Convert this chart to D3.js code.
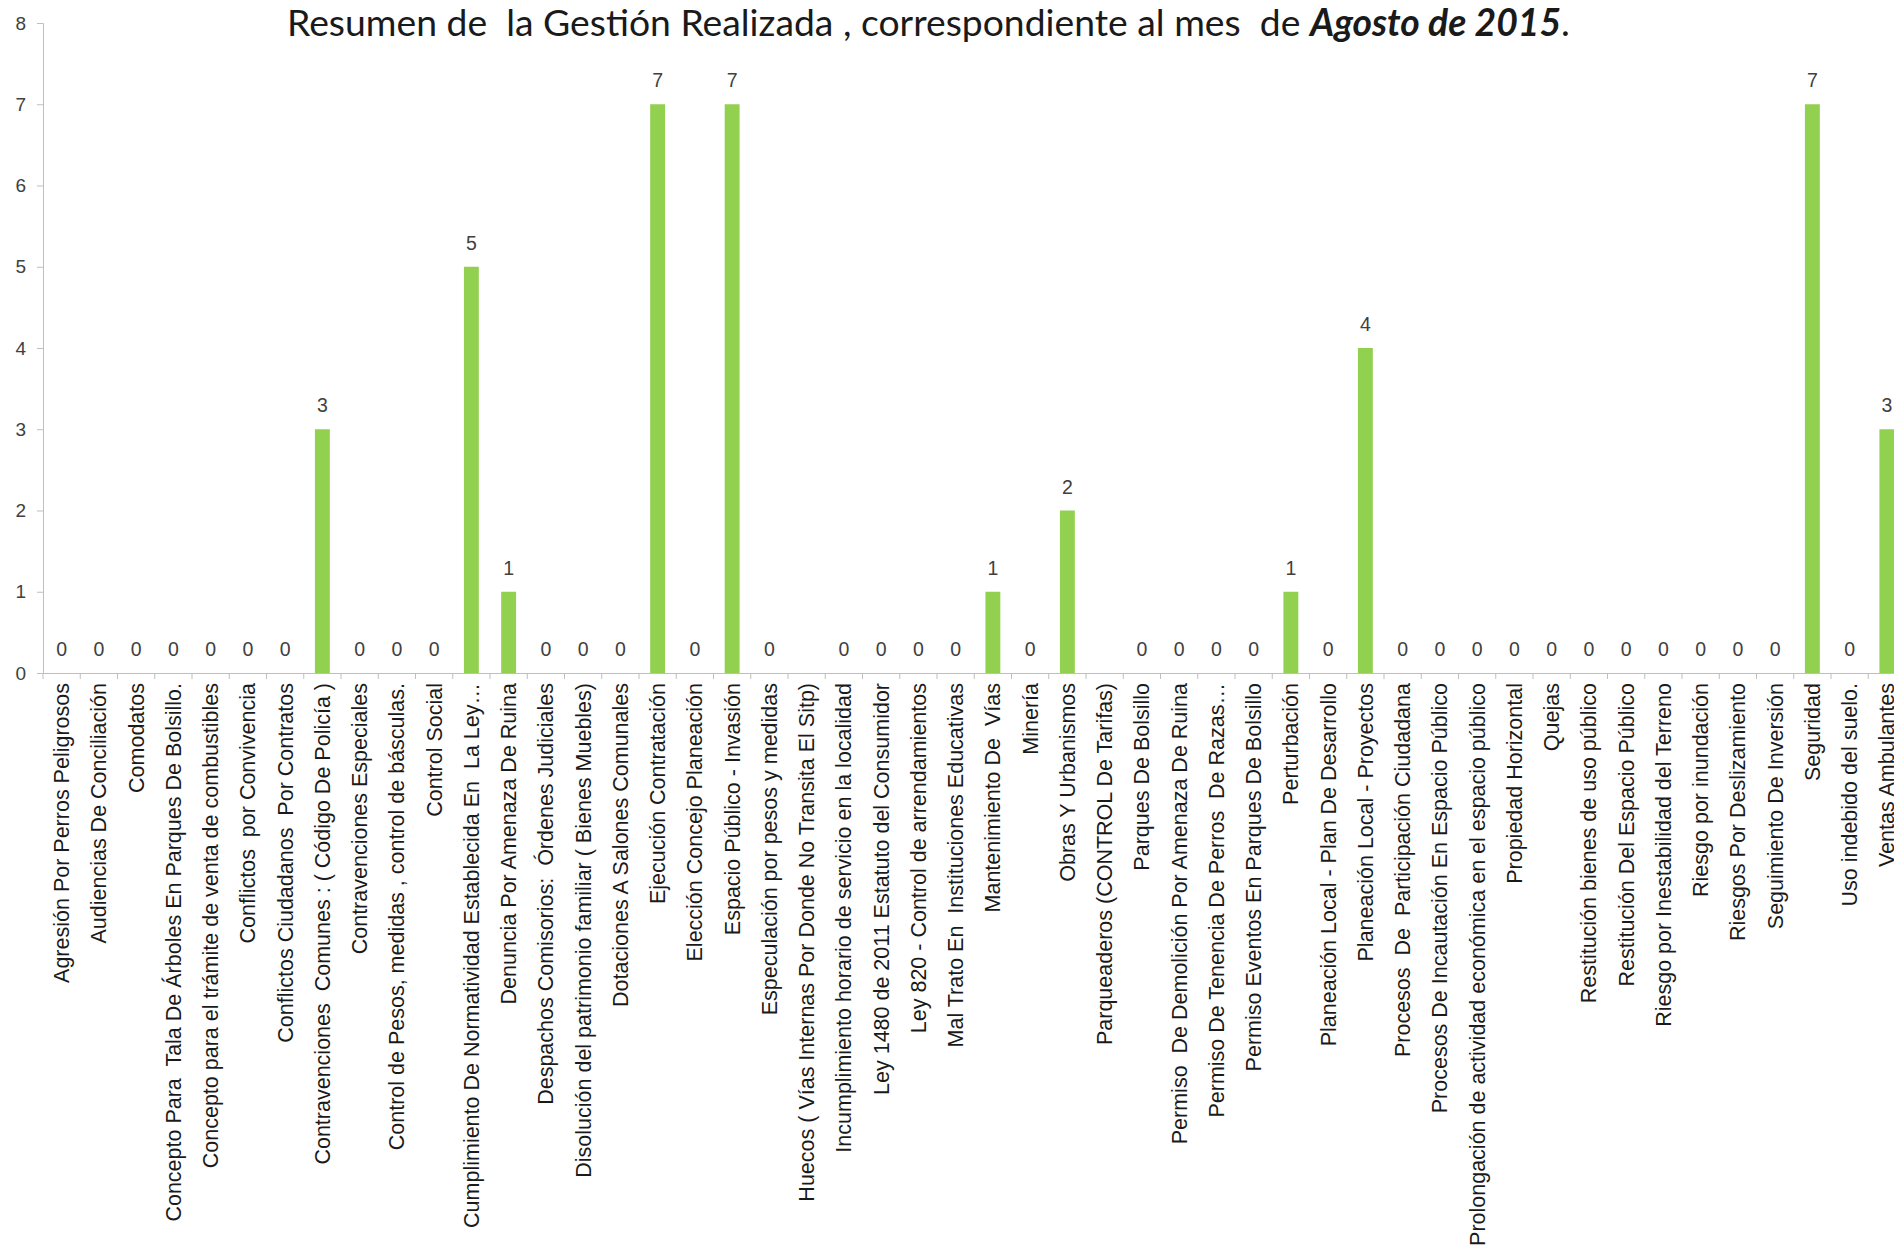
<!DOCTYPE html>
<html>
<head>
<meta charset="utf-8">
<script src="https://cdn.jsdelivr.net/npm/d3@7"></script>
<style>
  body { margin: 0; background: #fff; }
  svg { display: block; }
  text { white-space: pre; }
</style>
</head>
<body>
<svg id="chart" width="1894" height="1247"></svg>
<script>
// categorías y valores (agosto 2015)
const categories = [
  "Agresión Por Perros Peligrosos",
  "Audiencias De Conciliación",
  "Comodatos",
  "Concepto Para  Tala De Árboles En Parques De Bolsillo.",
  "Concepto para el trámite de venta de combustibles",
  "Conflictos  por Convivencia",
  "Conflictos Ciudadanos  Por Contratos",
  "Contravenciones  Comunes : ( Código De Policía )",
  "Contravenciones Especiales",
  "Control de Pesos, medidas , control de básculas.",
  "Control Social",
  "Cumplimiento De Normatividad Establecida En  La Ley…",
  "Denuncia Por Amenaza De Ruina",
  "Despachos Comisorios:  Órdenes Judiciales",
  "Disolución del patrimonio familiar ( Bienes Muebles)",
  "Dotaciones A Salones Comunales",
  "Ejecución Contratación",
  "Elección Concejo Planeación",
  "Espacio Público - Invasión",
  "Especulación por pesos y medidas",
  "Huecos ( Vías Internas Por Donde No Transita El Sitp)",
  "Incumplimiento horario de servicio en la localidad",
  "Ley 1480 de 2011 Estatuto del Consumidor",
  "Ley 820 - Control de arrendamientos",
  "Mal Trato En  Instituciones Educativas",
  "Mantenimiento De  Vías",
  "Minería",
  "Obras Y Urbanismos",
  "Parqueaderos (CONTROL De Tarifas)",
  "Parques De Bolsillo",
  "Permiso  De Demolición Por Amenaza De Ruina",
  "Permiso De Tenencia De Perros  De Razas…",
  "Permiso Eventos En Parques De Bolsillo",
  "Perturbación",
  "Planeación Local - Plan De Desarrollo",
  "Planeación Local - Proyectos",
  "Procesos  De  Participación Ciudadana",
  "Procesos De Incautación En Espacio Público",
  "Prolongación de actividad económica en el espacio público",
  "Propiedad Horizontal",
  "Quejas",
  "Restitución bienes de uso público",
  "Restitución Del Espacio Público",
  "Riesgo por Inestabilidad del Terreno",
  "Riesgo por inundación",
  "Riesgos Por Deslizamiento",
  "Seguimiento De Inversión",
  "Seguridad",
  "Uso indebido del suelo.",
  "Ventas Ambulantes"
];

// null = sin dato (no lleva etiqueta)
const values = [
  0, 0, 0, 0, 0, 0, 0, 3, 0, 0,
  0, 5, 1, 0, 0, 0, 7, 0, 7, 0,
  null, 0, 0, 0, 0, 1, 0, 2, null, 0,
  0, 0, 0, 1, 0, 4, 0, 0, 0, 0,
  0, 0, 0, 0, 0, 0, 0, 7, 0, 3
];

const yTicks = [0, 1, 2, 3, 4, 5, 6, 7, 8];

const titleParts = [
  { text: "Resumen de  la Gestión Realizada , correspondiente al mes  de ", bold: false },
  { text: "Agosto de 2015", bold: true },
  { text: ".", bold: false }
];

const data = categories.map((c, i) => ({ cat: c, value: values[i] }));

const svg = d3.select("#chart");
const left = 43, baseY = 673, topY = 23, band = 37.25;
const axisColor = "#bfbfbf";
const font = "'Liberation Sans', Arial, sans-serif";

const x = d3.scaleBand()
  .domain(categories)
  .range([left, left + band * categories.length]);

const y = d3.scaleLinear()
  .domain([0, 8])
  .range([baseY, topY]);

const barW = x.bandwidth() * 0.4;

// eje y
const yAxis = svg.append("g")
  .attr("transform", `translate(${left},0)`)
  .call(d3.axisLeft(y).tickValues(yTicks).tickSize(6).tickPadding(11).tickFormat(d3.format("d")));
yAxis.select(".domain").attr("stroke", axisColor);
yAxis.selectAll(".tick line").attr("stroke", axisColor);
yAxis.selectAll(".tick text")
  .attr("font-family", font)
  .attr("font-size", 19)
  .attr("fill", "#404040");

// barras
svg.append("g").selectAll("rect")
  .data(data.filter(d => d.value))
  .join("rect")
  .attr("x", d => x(d.cat) + (x.bandwidth() - barW) / 2)
  .attr("y", d => y(d.value))
  .attr("width", barW)
  .attr("height", d => y(0) - y(d.value))
  .attr("fill", "#92d050");

// eje x: linea, marcas entre categorías y etiquetas giradas
const xAxis = svg.append("g")
  .attr("transform", `translate(0,${baseY})`)
  .call(d3.axisBottom(x).tickSize(0).tickPadding(0));
xAxis.select(".domain").attr("stroke", axisColor);
xAxis.selectAll(".tick text")
  .attr("font-family", font)
  .attr("font-size", 21.5)
  .attr("fill", "#1a1a1a")
  .attr("text-anchor", "end")
  .attr("transform", "rotate(-90)")
  .attr("x", -10)
  .attr("y", 0)
  .attr("dy", "0.35em");

const bounds = categories.map(c => x(c)).concat([x.range()[1]]);
xAxis.append("g").selectAll("line")
  .data(bounds)
  .join("line")
  .attr("x1", d => d).attr("x2", d => d)
  .attr("y1", 0).attr("y2", 6)
  .attr("stroke", axisColor);

// etiquetas de valor
svg.append("g").selectAll("text")
  .data(data.filter(d => d.value !== null))
  .join("text")
  .attr("x", d => x(d.cat) + x.bandwidth() / 2)
  .attr("y", d => y(d.value) - 17)
  .attr("text-anchor", "middle")
  .attr("font-family", font)
  .attr("font-size", 19.5)
  .attr("fill", "#404040")
  .text(d => d.value);

// título
const title = svg.append("text")
  .attr("x", 287)
  .attr("y", 36)
  .attr("font-family", "Lato, 'Open Sans', sans-serif")
  .attr("font-size", 40)
  .attr("fill", "#1a1a1a");
title.selectAll("tspan")
  .data(titleParts)
  .join("tspan")
  .attr("font-weight", d => d.bold ? "bold" : null)
  .attr("font-style", d => d.bold ? "italic" : null)
  .text(d => d.text);

// ajustar al ancho del original
const targetW = 1283;
const w = title.node().getComputedTextLength();
title.attr("font-size", 40 * targetW / w);
</script>
</body>
</html>
